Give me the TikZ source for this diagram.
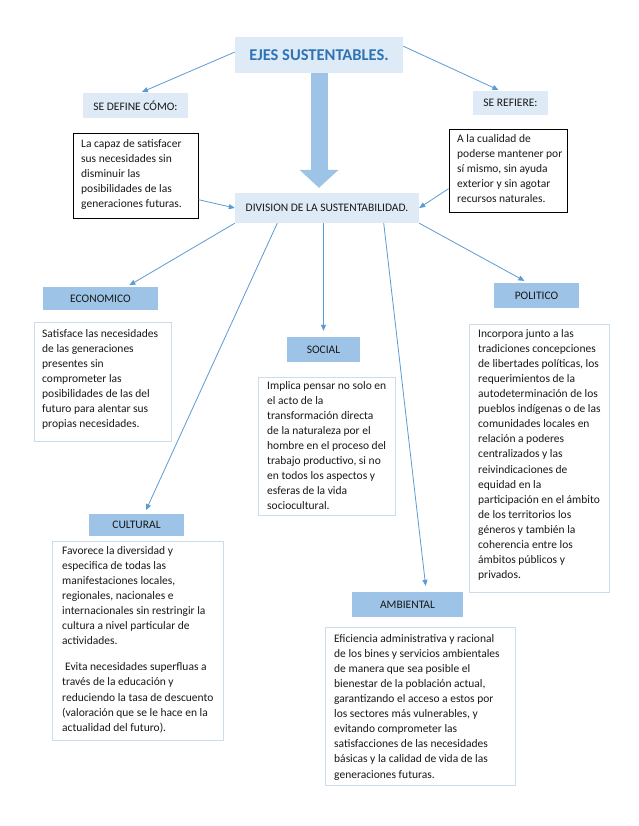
\documentclass[tikz,border=0pt]{standalone}
\usepackage{fontspec}
\setmainfont{Carlito}
\usetikzlibrary{arrows.meta}
\definecolor{palefill}{HTML}{DEEAF6}
\definecolor{midfill}{HTML}{9DC3E6}
\definecolor{linkblue}{HTML}{5B9BD5}
\definecolor{titleblue}{HTML}{2E74B5}
\definecolor{paleedge}{HTML}{CBDCEC}

\begin{document}
\begin{tikzpicture}[x=1pt, y=-1pt,
        every node/.style={font=\fontsize{11.5}{15.1}\selectfont, inner sep=0pt, text=black!90},
        head/.style={fill=palefill},
        dim/.style={fill=midfill},
        note/.style={draw=black, line width=0.9pt},
        desc/.style={draw=paleedge, line width=0.8pt},
        txt/.style={anchor=north west, align=left},
        link/.style={draw=linkblue, line width=0.8pt, -{Triangle[length=6pt,width=5pt]}}]
        \fill[white] (0,0) rectangle (638,826);
        \useasboundingbox (0,0) rectangle (638,826);

        % top level
        \node (ejes) at (319,55) [head, minimum width=168pt, minimum height=36pt,
            text=titleblue, font=\fontsize{16.5}{19}\selectfont\bfseries] {EJES SUSTENTABLES.};
        \node (define) at (135.5,105.5) [head, minimum width=105pt, minimum height=25pt] {SE DEFINE CÓMO:};
        \node (refiere) at (510.5,103) [head, minimum width=75pt, minimum height=24pt] {SE REFIERE:};

        \node (defbox) at (135.5,175.5) [note, minimum width=125pt, minimum height=85pt] {};
        \node (refbox) at (508,170.5) [note, minimum width=118pt, minimum height=83pt] {};
        \node (defnote) at (81,139) [txt]
            {La capaz de satisfacer\\ sus necesidades sin\\ disminuir las\\ posibilidades de las\\ generaciones futuras.};
        \node (refnote) at (457,134) [txt]
            {A la cualidad de\\ poderse mantener por\\ sí mismo, sin ayuda\\ exterior y sin agotar\\ recursos naturales.};

        \node (division) at (327,208) [head, minimum width=184pt, minimum height=30pt] {DIVISION DE LA SUSTENTABILIDAD.};

        % the five axes
        \node (econ) at (100.5,298.5) [dim, minimum width=115pt, minimum height=23pt] {ECONOMICO};
        \node (social) at (323.5,349.5) [dim, minimum width=73pt, minimum height=25pt] {SOCIAL};
        \node (politico) at (536.5,295.5) [dim, minimum width=85pt, minimum height=25pt] {POLITICO};
        \node (cultural) at (136.5,525) [dim, minimum width=95pt, minimum height=22pt] {CULTURAL};
        \node (ambiental) at (407.5,604.5) [dim, minimum width=111pt, minimum height=25pt] {AMBIENTAL};

        \node (econbox) at (102.5,381.5) [desc, minimum width=137pt, minimum height=119pt] {};
        \node (socialbox) at (326.5,446) [desc, minimum width=137pt, minimum height=138pt] {};
        \node (politbox) at (539,458) [desc, minimum width=140pt, minimum height=268pt] {};
        \node (cultbox) at (137.5,640.5) [desc, minimum width=171pt, minimum height=199pt] {};
        \node (ambbox) at (420,706) [desc, minimum width=190pt, minimum height=158pt] {};

        \node (econnote) at (42,329) [txt]
            {Satisface las necesidades\\ de las generaciones\\ presentes sin\\ comprometer las\\ posibilidades de las del\\ futuro para alentar sus\\ propias necesidades.};
        \node (socialnote) at (267,381) [txt]
            {Implica pensar no solo en\\ el acto de la\\ transformación directa\\ de la naturaleza por el\\ hombre en el proceso del\\ trabajo productivo, si no\\ en todos los aspectos y\\ esferas de la vida\\ sociocultural.};
        \node (politnote) at (478,329) [txt]
            {Incorpora junto a las\\ tradiciones concepciones\\ de libertades políticas, los\\ requerimientos de la\\ autodeterminación de los\\ pueblos indígenas o de las\\ comunidades locales en\\ relación a poderes\\ centralizados y las\\ reivindicaciones de\\ equidad en la\\ participación en el ámbito\\ de los territorios los\\ géneros y también la\\ coherencia entre los\\ ámbitos públicos y\\ privados.};
        \node (cultnote) at (62,546) [txt]
            {Favorece la diversidad y\\ especifica de todas las\\ manifestaciones locales,\\ regionales, nacionales e\\ internacionales sin restringir la\\ cultura a nivel particular de\\ actividades.\\[11pt]
             \hspace{3pt}Evita necesidades superfluas a\\ través de la educación y\\ reduciendo la tasa de descuento\\ (valoración que se le hace en la\\ actualidad del futuro).};
        \node (ambnote) at (334,634) [txt]
            {Eficiencia administrativa y racional\\ de los bines y servicios ambientales\\ de manera que sea posible el\\ bienestar de la población actual,\\ garantizando el acceso a estos por\\ los sectores más vulnerables, y\\ evitando comprometer las\\ satisfacciones de las necesidades\\ básicas y la calidad de vida de las\\ generaciones futuras.};

        % big arrow
        \draw [midfill, line width=17pt, shorten >=5pt, -{Triangle[length=18pt,width=38pt]}]
            (ejes.south) -- (ejes.south |- division.north);

        % connectors
        \draw [link, shorten >=2pt] (ejes.178) -- (define.70);
        \draw [link, shorten >=2pt] (ejes.6) -- (refiere.130);
        \draw [link] (defbox.-21) -- (division.west);
        \draw [link] (refbox.197) -- (division.east);

        \draw [link, shorten >=3pt] (division.south west) -- (econ.24);
        \draw [link, shorten >=4pt] (division.197) -- (cultural.55);
        \draw [link, shorten >=6pt] (social.north |- division.south) -- (social.north);
        \draw [link, shorten >=6pt] (division.-15) -- (ambiental.34);
        \draw [link, shorten >=4pt] (division.south east) -- (politico.124);
    \end{tikzpicture}
\end{document}
